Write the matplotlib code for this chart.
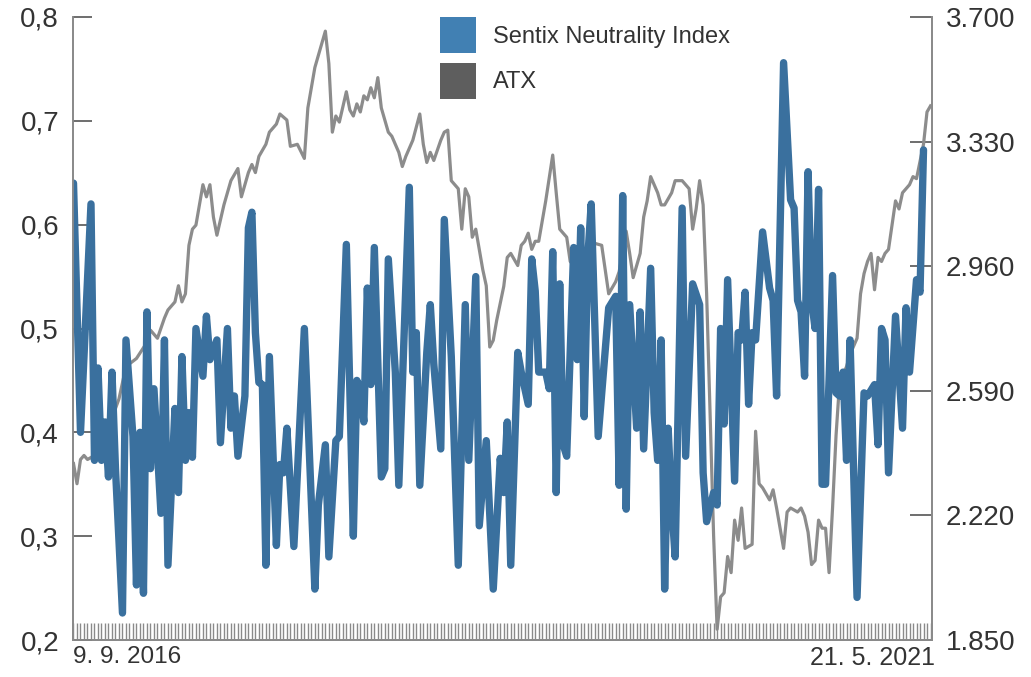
import numpy as np
import matplotlib
matplotlib.use("Agg")
import matplotlib.pyplot as plt
from matplotlib.patches import Patch

plt.rcParams['font.family'] = ['Liberation Sans', 'DejaVu Sans']

start_date = np.datetime64('2016-09-09')
end_date = np.datetime64('2021-05-21')
n_weeks = 246
start_label = "9. 9. 2016"
end_label = "21. 5. 2021"

sentix_week = [0, 2, 5, 6, 7, 8, 9, 10, 11, 12, 14, 15, 17, 18, 19, 20, 21, 22, 23, 25,
               26, 27, 29, 30, 31, 32, 33, 34, 35, 37, 38, 39, 41, 42, 44, 45, 46, 47, 49, 50,
               51, 52, 53, 54, 55, 56, 58, 59, 60, 61, 63, 66, 69, 70, 72, 73, 75, 76, 78, 80,
               81, 82, 83, 84, 85, 86, 88, 89, 90, 92, 93, 96, 97, 98, 99, 101, 102, 103, 105, 106,
               108, 110, 112, 113, 115, 116, 118, 120, 122, 123, 124, 125, 127, 128, 130, 131, 132, 133, 135, 136,
               137, 138, 139, 140, 141, 143, 144, 145, 146, 147, 148, 150, 153, 155, 156, 157, 158, 159, 161, 162,
               163, 165, 166, 167, 168, 169, 170, 171, 172, 174, 175, 177, 179, 180, 181, 183, 184, 185, 186, 187,
               189, 190, 191, 192, 193, 194, 195, 197, 199, 200, 201, 203, 205, 206, 207, 208, 209, 210, 211, 212,
               213, 214, 215, 217, 218, 219, 220, 221, 222, 224, 226, 227, 229, 230, 231, 232, 233, 235, 237, 238,
               239, 241, 242, 243]
sentix_value = [0.64, 0.40, 0.62, 0.373, 0.462, 0.373, 0.41, 0.357, 0.458, 0.365, 0.226, 0.489, 0.396, 0.253, 0.40, 0.245, 0.516, 0.365, 0.442, 0.322,
                0.489, 0.272, 0.423, 0.342, 0.473, 0.373, 0.419, 0.376, 0.50, 0.454, 0.512, 0.47, 0.489, 0.39, 0.50, 0.404, 0.435, 0.377, 0.435, 0.597,
                0.612, 0.496, 0.448, 0.446, 0.272, 0.473, 0.291, 0.369, 0.361, 0.404, 0.29, 0.50, 0.249, 0.33, 0.388, 0.28, 0.392, 0.396, 0.581, 0.30,
                0.45, 0.442, 0.41, 0.539, 0.446, 0.578, 0.357, 0.365, 0.567, 0.458, 0.349, 0.636, 0.458, 0.496, 0.349, 0.477, 0.523, 0.466, 0.384, 0.605,
                0.473, 0.272, 0.523, 0.373, 0.55, 0.31, 0.392, 0.249, 0.375, 0.342, 0.41, 0.272, 0.477, 0.458, 0.427, 0.567, 0.536, 0.458, 0.458, 0.442,
                0.574, 0.342, 0.543, 0.388, 0.377, 0.578, 0.47, 0.597, 0.415, 0.567, 0.62, 0.396, 0.52, 0.531, 0.349, 0.628, 0.326, 0.523, 0.404, 0.516,
                0.384, 0.558, 0.419, 0.373, 0.489, 0.249, 0.404, 0.33, 0.28, 0.616, 0.377, 0.543, 0.523, 0.361, 0.314, 0.342, 0.33, 0.50, 0.408, 0.547,
                0.353, 0.496, 0.489, 0.535, 0.427, 0.496, 0.489, 0.593, 0.539, 0.527, 0.435, 0.756, 0.624, 0.616, 0.527, 0.516, 0.454, 0.651, 0.527, 0.50,
                0.634, 0.35, 0.35, 0.551, 0.438, 0.435, 0.458, 0.373, 0.489, 0.241, 0.438, 0.435, 0.446, 0.388, 0.50, 0.489, 0.361, 0.512, 0.404, 0.52,
                0.458, 0.547, 0.535, 0.672]

atx_week = [0, 1, 2, 3, 4, 6, 8, 10, 13, 15, 18, 21, 22, 24, 26, 27, 29, 30, 31, 32,
            33, 34, 35, 37, 38, 39, 40, 41, 43, 44, 45, 47, 48, 50, 51, 52, 53, 55, 56, 58,
            59, 61, 62, 64, 66, 67, 69, 71, 72, 73, 74, 75, 76, 78, 79, 80, 81, 82, 83, 84,
            85, 86, 87, 88, 90, 91, 93, 94, 95, 97, 99, 100, 101, 102, 103, 105, 106, 107, 108, 110,
            111, 112, 113, 114, 115, 117, 118, 119, 120, 121, 123, 124, 125, 127, 128, 129, 130, 131, 132, 133,
            135, 137, 138, 139, 141, 142, 144, 145, 147, 148, 149, 151, 153, 155, 156, 158, 159, 160, 162, 163,
            164, 165, 167, 168, 169, 171, 172, 174, 176, 177, 178, 179, 180, 181, 182, 183, 184, 185, 186, 187,
            188, 189, 190, 191, 192, 194, 195, 196, 197, 199, 200, 201, 203, 204, 205, 207, 208, 209, 210, 211,
            212, 213, 214, 215, 216, 217, 218, 219, 221, 222, 224, 225, 226, 227, 228, 229, 230, 231, 232, 233,
            235, 236, 237, 239, 240, 241, 243, 244, 245]
atx_value = [2374, 2314, 2386, 2398, 2386, 2398, 2420, 2480, 2566, 2662, 2686, 2734, 2770, 2746, 2806, 2830, 2854, 2902, 2854, 2878,
             3022, 3070, 3082, 3202, 3166, 3202, 3106, 3052, 3142, 3178, 3214, 3250, 3166, 3238, 3262, 3238, 3286, 3322, 3358, 3382,
             3412, 3394, 3316, 3322, 3280, 3430, 3550, 3622, 3658, 3562, 3358, 3406, 3388, 3478, 3424, 3406, 3442, 3418, 3466, 3454,
             3490, 3460, 3520, 3430, 3358, 3346, 3298, 3256, 3286, 3334, 3412, 3322, 3268, 3298, 3274, 3334, 3358, 3364, 3214, 3190,
             3070, 3190, 3166, 3046, 3070, 2950, 2902, 2720, 2740, 2800, 2900, 2986, 2998, 2962, 3022, 3034, 3058, 3010, 3034, 3034,
             3154, 3290, 3178, 3070, 3046, 2974, 2950, 2938, 2950, 3046, 3028, 3022, 2878, 2914, 2944, 3064, 2998, 2926, 2998, 3106,
             3154, 3226, 3178, 3142, 3142, 3178, 3214, 3214, 3190, 3070, 3130, 3214, 3142, 2878, 2518, 2158, 1882, 1978, 1990, 2098,
             2050, 2206, 2146, 2242, 2122, 2134, 2470, 2314, 2302, 2266, 2296, 2242, 2122, 2230, 2242, 2230, 2242, 2218, 2170, 2074,
             2086, 2206, 2182, 2182, 2050, 2242, 2458, 2614, 2662, 2698, 2746, 2878, 2938, 2974, 2998, 2890, 2986, 2974, 2998, 3010,
             3154, 3130, 3178, 3202, 3226, 3220, 3322, 3418, 3436]

left_ticks = [0.2, 0.3, 0.4, 0.5, 0.6, 0.7, 0.8]
left_labels = ["0,2", "0,3", "0,4", "0,5", "0,6", "0,7", "0,8"]
right_ticks = [1850, 2220, 2590, 2960, 3330, 3700]
right_labels = ["1.850", "2.220", "2.590", "2.960", "3.330", "3.700"]

series_names = ["Sentix Neutrality Index", "ATX"]

blue = '#3a709e'
gray = '#8c8c8c'
spine_c = '#8a8a8a'
txt_c = '#333333'

sentix_dates = start_date + 7 * np.array(sentix_week)
atx_dates = start_date + 7 * np.array(atx_week)
all_weeks = start_date + 7 * np.arange(n_weeks)

fig = plt.figure(figsize=(10.31, 6.77), dpi=100)
ax = fig.add_axes([73 / 1031, 1 - 640 / 677, (932 - 73) / 1031, (640 - 17) / 677])
ax2 = ax.twinx()

ax2.plot(atx_dates, atx_value, color=gray, lw=2.3, solid_joinstyle='round')
ax.plot(sentix_dates, sentix_value, color=blue, lw=5.3, solid_joinstyle='round',
        solid_capstyle='round')

ax.set_zorder(ax2.get_zorder() + 1)
ax.patch.set_visible(False)

ax.set_ylim(0.2, 0.8)
ax2.set_ylim(1850, 3700)
ax.set_xlim(start_date - np.timedelta64(1, 'D'), end_date + np.timedelta64(3, 'D'))

ax.set_yticks(left_ticks)
ax.set_yticklabels(left_labels)
ax2.set_yticks(right_ticks)
ax2.set_yticklabels(right_labels)

ax.tick_params(axis='y', direction='in', length=14, width=1.2, color='#555555',
               labelsize=20, labelcolor=txt_c, pad=10)
ax2.tick_params(axis='y', direction='in', length=16, width=1.2, color='#555555',
                labelsize=20, labelcolor=txt_c, pad=10)

ax.set_xticks([])
ax.set_xticks(all_weeks, minor=True)
ax.tick_params(axis='x', which='minor', direction='in', length=12, width=1.0,
               color='#8a8a8a', labelbottom=False)
ax2.set_xticks([])

for a in (ax, ax2):
    a.spines['top'].set_visible(False)
    for s in ('left', 'right', 'bottom'):
        a.spines[s].set_color(spine_c)
        a.spines[s].set_linewidth(1.3)

ax.text(0.0, -0.01, start_label, transform=ax.transAxes, ha='left', va='top',
        fontsize=17.5, color=txt_c)
ax.text(1.003, -0.01, end_label, transform=ax.transAxes, ha='right', va='top',
        fontsize=18, color=txt_c)

handles = [Patch(facecolor='#4180b3', edgecolor='none'),
           Patch(facecolor='#5e5e5e', edgecolor='none')]
leg = fig.legend(handles, series_names, loc='upper left',
                 bbox_to_anchor=(440 / 1031, 1 - 17 / 677), frameon=False,
                 fontsize=17, handlelength=1.52, handleheight=1.97,
                 labelspacing=0.42, handletextpad=0.72, borderpad=0.0,
                 borderaxespad=0.0)
for t in leg.get_texts():
    t.set_color(txt_c)

fig.savefig('out.png', dpi=100)
